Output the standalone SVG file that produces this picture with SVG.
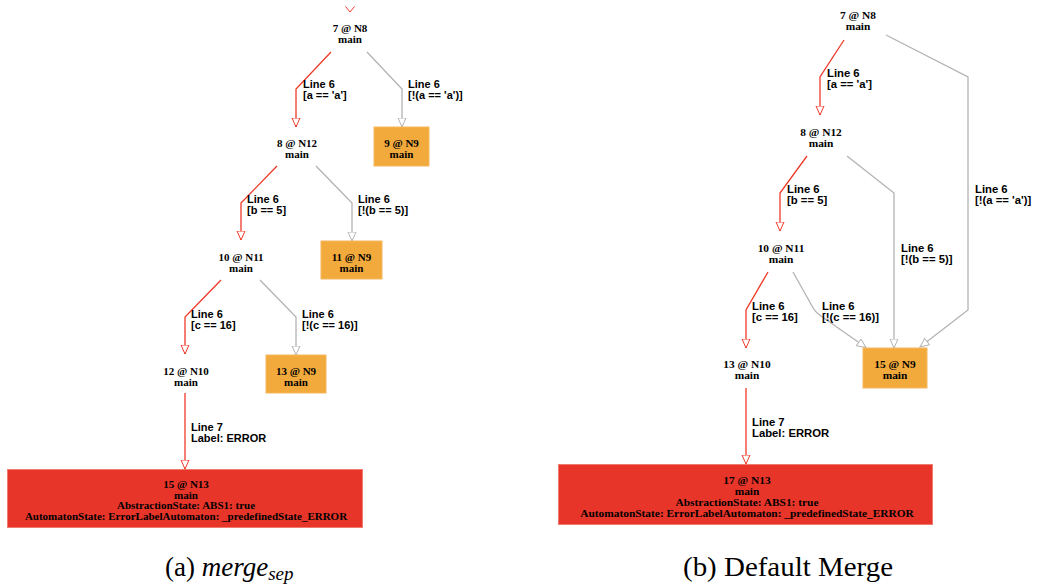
<svg xmlns="http://www.w3.org/2000/svg" width="1038" height="587" viewBox="0 0 1038 587">
  <defs>
    <style>
      .bg { fill: #ffffff; }
      .nt { font-family: "Liberation Serif", "Times New Roman", serif; font-weight: bold; text-anchor: middle; fill: #000; }
      .nl { font-size: 11px; }
      .nr { font-size: 11.4px; }
      .el { font-family: "Liberation Sans", Arial, sans-serif; font-weight: bold; fill: #000; }
      .ell { font-size: 11px; }
      .elr { font-size: 11.3px; }
      .red { fill: none; stroke: #ee3a28; stroke-width: 1.3; }
      .gray { fill: none; stroke: #b3b3b3; stroke-width: 1.3; }
      .ok { fill: #f2aa3c; stroke: #f5b860; stroke-width: 1; }
      .err { fill: #e8352a; stroke: #f07a70; stroke-width: 1; }
      .cap { font-family: "Liberation Serif", "Times New Roman", serif; font-size: 27px; fill: #000; }
    </style>
    <marker id="arRed" markerUnits="userSpaceOnUse" markerWidth="11" markerHeight="10" refX="9.5" refY="4.5" orient="auto" viewBox="0 0 11 10">
      <path d="M0.5,0.5 L9.5,4.5 L0.5,8.5 Z" fill="#ffffff" stroke="#ee3a28" stroke-width="1"/>
    </marker>
    <marker id="arGray" markerUnits="userSpaceOnUse" markerWidth="11" markerHeight="10" refX="9.5" refY="4.5" orient="auto" viewBox="0 0 11 10">
      <path d="M0.5,0.5 L9.5,4.5 L0.5,8.5 Z" fill="#ffffff" stroke="#b3b3b3" stroke-width="1"/>
    </marker>
  </defs>

  <rect class="bg" x="0" y="0" width="1038" height="587"/>

  <!-- ===== (a) merge-sep graph ===== -->
  <g id="left-edges">
    <!-- incoming edge end above the root -->
    <polyline points="345.5,6.5 350,12 354.5,6.5" fill="none" stroke="#ee3a28" stroke-width="1"/>
    <polyline class="red" points="331,52 296,89 296,127" marker-end="url(#arRed)"/>
    <polyline class="gray" points="367,52 402,89 402,127" marker-end="url(#arGray)"/>
    <polyline class="red" points="277,166 241,203 241,240" marker-end="url(#arRed)"/>
    <polyline class="gray" points="316,166 352,203 352,241" marker-end="url(#arGray)"/>
    <polyline class="red" points="221,280 185,317 185,354" marker-end="url(#arRed)"/>
    <polyline class="gray" points="260,280 296,317 296,355" marker-end="url(#arGray)"/>
    <polyline class="red" points="185,393 185,469" marker-end="url(#arRed)"/>

    <text class="el ell" x="303" y="88">Line 6</text>
    <text class="el ell" x="303" y="99">[a == 'a']</text>
    <text class="el ell" x="408" y="88">Line 6</text>
    <text class="el ell" x="408" y="99">[!(a == 'a')]</text>
    <text class="el ell" x="247" y="203">Line 6</text>
    <text class="el ell" x="247" y="214">[b == 5]</text>
    <text class="el ell" x="358" y="203">Line 6</text>
    <text class="el ell" x="358" y="214">[!(b == 5)]</text>
    <text class="el ell" x="191" y="318">Line 6</text>
    <text class="el ell" x="191" y="329">[c == 16]</text>
    <text class="el ell" x="302" y="318">Line 6</text>
    <text class="el ell" x="302" y="329">[!(c == 16)]</text>
    <text class="el ell" x="191" y="431">Line 7</text>
    <text class="el ell" x="191" y="442">Label: ERROR</text>
  </g>

  <g id="a-7-N8">
    <text class="nt nl" x="350" y="32">7 @ N8</text>
    <text class="nt nl" x="350" y="42.5">main</text>
  </g>
  <g id="a-8-N12">
    <text class="nt nl" x="297" y="147">8 @ N12</text>
    <text class="nt nl" x="297" y="157.5">main</text>
  </g>
  <g id="a-9-N9">
    <rect class="ok" x="374" y="127" width="55" height="39"/>
    <text class="nt nl" x="401.5" y="147">9 @ N9</text>
    <text class="nt nl" x="401.5" y="157.5">main</text>
  </g>
  <g id="a-10-N11">
    <text class="nt nl" x="241" y="261">10 @ N11</text>
    <text class="nt nl" x="241" y="271.5">main</text>
  </g>
  <g id="a-11-N9">
    <rect class="ok" x="321" y="241" width="61" height="38"/>
    <text class="nt nl" x="351.5" y="261">11 @ N9</text>
    <text class="nt nl" x="351.5" y="271.5">main</text>
  </g>
  <g id="a-12-N10">
    <text class="nt nl" x="186" y="375">12 @ N10</text>
    <text class="nt nl" x="186" y="385.5">main</text>
  </g>
  <g id="a-13-N9">
    <rect class="ok" x="266" y="355" width="60" height="38"/>
    <text class="nt nl" x="296" y="375">13 @ N9</text>
    <text class="nt nl" x="296" y="385.5">main</text>
  </g>
  <g id="a-15-N13">
    <rect class="err" x="7.5" y="469.5" width="355" height="58"/>
    <text class="nt nl" x="186" y="488">15 @ N13</text>
    <text class="nt nl" x="186" y="498.5">main</text>
    <text class="nt nl" x="186" y="509">AbstractionState: ABS1: true</text>
    <text class="nt nl" x="186" y="519.5">AutomatonState: ErrorLabelAutomaton: _predefinedState_ERROR</text>
  </g>

  <!-- ===== (b) default merge graph ===== -->
  <g id="right-edges">
    <polyline class="red" points="844,40 820,77 820,115" marker-end="url(#arRed)"/>
    <polyline class="gray" points="886,35 968,77 968,310 920,347" marker-end="url(#arGray)"/>
    <polyline class="red" points="807,156 780,193 780,231" marker-end="url(#arRed)"/>
    <polyline class="gray" points="847,156 894,193 894,348" marker-end="url(#arGray)"/>
    <polyline class="red" points="768,272 746,310 746,348" marker-end="url(#arRed)"/>
    <path class="gray" d="M793,272 L812,306 Q815,312 821,316 L866,347.5" marker-end="url(#arGray)"/>
    <polyline class="red" points="746,388 746,464" marker-end="url(#arRed)"/>

    <text class="el elr" x="827" y="77">Line 6</text>
    <text class="el elr" x="827" y="88">[a == 'a']</text>
    <text class="el elr" x="787" y="193">Line 6</text>
    <text class="el elr" x="787" y="204">[b == 5]</text>
    <text class="el elr" x="975" y="193">Line 6</text>
    <text class="el elr" x="975" y="204">[!(a == 'a')]</text>
    <text class="el elr" x="901" y="252">Line 6</text>
    <text class="el elr" x="901" y="263">[!(b == 5)]</text>
    <text class="el elr" x="752" y="310">Line 6</text>
    <text class="el elr" x="752" y="321">[c == 16]</text>
    <text class="el elr" x="822" y="310">Line 6</text>
    <text class="el elr" x="822" y="321">[!(c == 16)]</text>
    <text class="el elr" x="752" y="426">Line 7</text>
    <text class="el elr" x="752" y="437">Label: ERROR</text>
  </g>

  <g id="b-7-N8">
    <text class="nt nr" x="858" y="19">7 @ N8</text>
    <text class="nt nr" x="858" y="30">main</text>
  </g>
  <g id="b-8-N12">
    <text class="nt nr" x="821" y="136">8 @ N12</text>
    <text class="nt nr" x="821" y="147">main</text>
  </g>
  <g id="b-10-N11">
    <text class="nt nr" x="781" y="252">10 @ N11</text>
    <text class="nt nr" x="781" y="263">main</text>
  </g>
  <g id="b-13-N10">
    <text class="nt nr" x="747" y="368">13 @ N10</text>
    <text class="nt nr" x="747" y="379">main</text>
  </g>
  <g id="b-15-N9">
    <rect class="ok" x="863" y="348" width="64" height="40"/>
    <text class="nt nr" x="895" y="368">15 @ N9</text>
    <text class="nt nr" x="895" y="379">main</text>
  </g>
  <g id="b-17-N13">
    <rect class="err" x="558.5" y="464.5" width="374" height="60"/>
    <text class="nt nr" x="747" y="484">17 @ N13</text>
    <text class="nt nr" x="747" y="495">main</text>
    <text class="nt nr" x="747" y="506">AbstractionState: ABS1: true</text>
    <text class="nt nr" x="747" y="517">AutomatonState: ErrorLabelAutomaton: _predefinedState_ERROR</text>
  </g>

  <!-- captions -->
  <text class="cap" x="165" y="576">(a) <tspan font-style="italic">merge</tspan><tspan font-style="italic" font-size="19" dy="4">sep</tspan></text>
  <text class="cap" x="683" y="576" textLength="210" lengthAdjust="spacingAndGlyphs">(b) Default Merge</text>
</svg>
